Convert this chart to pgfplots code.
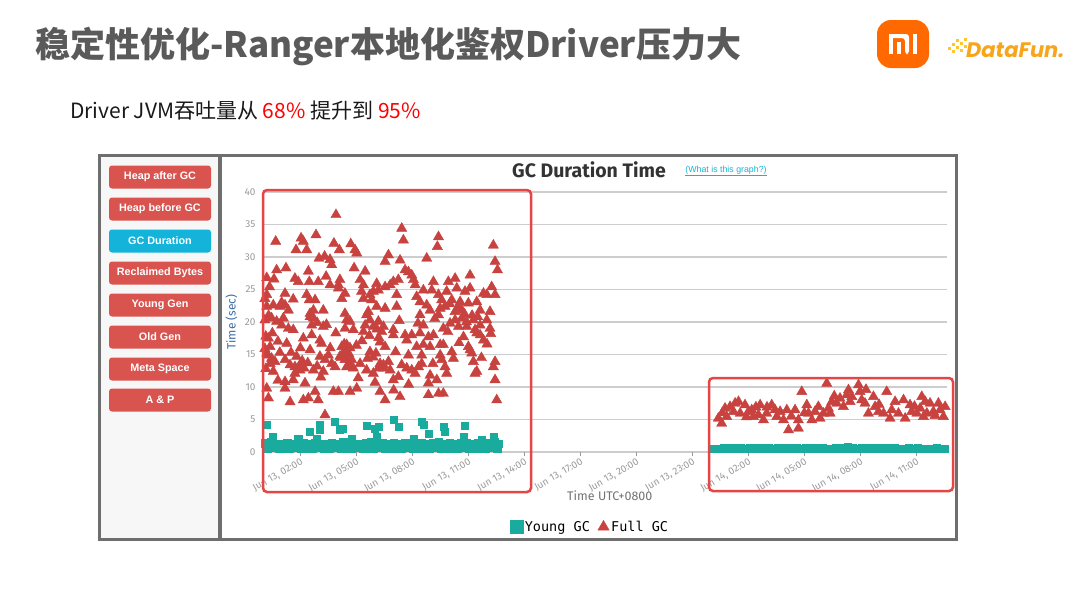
\documentclass[border=0pt]{standalone}
\usepackage{fontspec}
\usepackage{pgfplots}
\pgfplotsset{compat=1.18}
\setmainfont{Liberation Sans}
\newfontfamily\cjk{Noto Sans CJK SC}
\newfontfamily\fira{Fira Sans}
\newfontfamily\mono{DejaVu Sans Mono}
\newfontfamily\pop{Poppins}

\definecolor{fullgc}{HTML}{C8423F}
\definecolor{younggc}{HTML}{1AAB9F}
\definecolor{btnred}{HTML}{D9534F}
\definecolor{btncyan}{HTML}{14B3DA}
\definecolor{boxred}{HTML}{E64545}
\definecolor{framegray}{HTML}{6E6E6E}
\definecolor{ttl}{HTML}{5A5A5A}
\definecolor{ticktext}{HTML}{9A9A9A}
\definecolor{gridgray}{HTML}{CDCDCD}
\definecolor{ylab}{HTML}{3C6FA5}
\definecolor{mi}{HTML}{FF6900}
\definecolor{df}{HTML}{F8A51B}
\definecolor{dfy}{HTML}{FFC52A}

\newcommand{\btn}[3]{\node[fill=#3, rounded corners=3pt, minimum width=102pt,
  minimum height=23pt, inner sep=0pt, text=white,
  font=\bfseries\fontsize{10.8}{12}\selectfont] at (160,#2) {#1};}

\begin{document}
\begin{tikzpicture}
\begin{scope}[x=1pt,y=-1pt]
\path[use as bounding box, fill=white] (0,0) rectangle (1080,608);

% slide title and subtitle
\node[anchor=base west, inner sep=0pt, text=ttl] at (35,57)
  {\cjk\bfseries\fontsize{35}{38}\selectfont 稳定性优化-Ranger本地化鉴权Driver压力大};
\node[anchor=base west, inner sep=0pt, text=black!90] at (70,118)
  {\cjk\fontsize{21}{24}\selectfont Driver JVM吞吐量从 \textcolor{red}{68\%} 提升到 \textcolor{red}{95\%}};

% logos
\fill[mi, rounded corners=14pt] (877,20) rectangle (929,68);
\fill[white] (889,34) rectangle (893,54);
\fill[white, rounded corners=3pt] (889,34) -- (909,34) -- (909,54) -- (905,54) -- (905,38) -- (889,38) -- cycle;
\fill[white] (897,42) rectangle (901,54);
\fill[white] (913,34) rectangle (917,54);
\foreach \px/\py in {948/50,952/46,956/42,952/53,956/49,960/45,960/52,964/48,964/41}
  \fill[dfy] (\px,\py) rectangle ++(3,-3);
\node[anchor=base west, inner sep=0pt, text=df] at (966,57)
  {\pop\bfseries\itshape\fontsize{21}{24}\selectfont DataFun.};

% chart frame
\fill[black!3] (101,157) rectangle (219,538);
\draw[framegray, line width=3pt] (99.5,155.5) rectangle (956.5,539.5);
\draw[framegray, line width=3.5pt] (220,155) -- (220,540);

\btn{Heap after GC}{177}{btnred}
\btn{Heap before GC}{209}{btnred}
\btn{GC Duration}{241}{btncyan}
\btn{Reclaimed Bytes}{273}{btnred}
\btn{Young Gen}{305}{btnred}
\btn{Old Gen}{337}{btnred}
\btn{Meta Space}{369}{btnred}
\btn{A \& P}{400}{btnred}

\node[text=black!80, inner sep=0pt] at (589,170)
  {\fira\bfseries\fontsize{19.5}{22}\selectfont GC Duration Time};
\node[text=btncyan, inner sep=0pt] at (726,171)
  {\fontsize{8.8}{10}\selectfont\underline{(What is this graph?)}};
\end{scope}

\begin{axis}[
  at={(263pt,-452pt)}, anchor=south west,
  scale only axis, width=684pt, height=260pt,
  xmin=0, xmax=36.64, ymin=0, ymax=40,
  clip=false,
  axis line style={draw=none},
  ytick={0,5,...,40},
  ymajorgrids, grid style={line width=1.4pt, color=gridgray},
  xtick={2,5,...,35},
  xticklabels={{Jun 13, 02:00},{Jun 13, 05:00},{Jun 13, 08:00},{Jun 13, 11:00},
    {Jun 13, 14:00},{Jun 13, 17:00},{Jun 13, 20:00},{Jun 13, 23:00},
    {Jun 14, 02:00},{Jun 14, 05:00},{Jun 14, 08:00},{Jun 14, 11:00}},
  tick pos=left, tick align=outside,
  major tick length=4pt,
  ytick style={draw=none},
  xtick style={draw=ticktext, line width=0.6pt},
  /pgf/number format/assume math mode=true,
  x tick label style={rotate=30, anchor=north east, inner sep=1pt,
    font=\fira\fontsize{10}{11}\selectfont, text=ticktext},
  y tick label style={font=\fira\fontsize{10}{11}\selectfont, text=ticktext},
  xlabel={Time UTC+0800},
  xlabel style={at={(axis description cs:0.507,-0.169)}, anchor=center,
    font=\fira\fontsize{12.5}{14}\selectfont, text=black!55},
  ylabel={Time (sec)},
  ylabel style={at={(axis description cs:-0.046,0.5)}, anchor=center,
    font=\fira\fontsize{12}{14}\selectfont, text=ylab},
  legend style={at={(axis description cs:0.478,-0.288)}, anchor=center,
    draw=none, fill=none, legend columns=2,
    font=\mono\fontsize{13.5}{15}\selectfont,
    /tikz/every even column/.append style={column sep=6pt}},
  legend image post style={mark size=6.5pt},
]
% Young GC
\addplot[only marks, mark=square*, mark size=3.6pt, color=younggc] coordinates {
(0.1,1.35)(0.4,1.5)(0.7,1.3)(1.0,1.25)(1.3,1.4)(1.6,1.3)(1.9,1.2)(2.2,1.35)(2.5,1.3)(2.8,1.45)
(3.1,1.3)(3.4,1.25)(3.7,1.4)(4.0,1.3)(4.3,1.5)(4.6,1.35)(4.9,1.3)(5.2,1.25)(5.5,1.4)(5.8,1.55)
(6.1,1.3)(6.4,1.35)(6.7,1.25)(7.0,1.4)(7.3,1.3)(7.6,1.45)(7.9,1.35)(8.2,1.3)(8.5,1.4)(8.8,1.25)
(9.1,1.35)(9.4,1.5)(9.7,1.3)(10.0,1.4)(10.3,1.3)(10.6,1.45)(10.9,1.35)(11.2,1.3)(11.5,1.4)(11.8,1.25)
(12.1,1.35)(12.4,1.5)(12.6,1.3)
(0.25,0.6)(0.55,0.65)(0.85,0.6)(1.15,0.55)(1.45,0.6)(1.75,0.65)(2.05,0.6)(2.35,0.6)(2.65,0.55)(2.95,0.65)
(3.25,0.6)(3.55,0.6)(3.85,0.65)(4.15,0.55)(4.45,0.6)(4.75,0.6)(5.05,0.65)(5.35,0.6)(5.65,0.55)(5.95,0.6)
(6.25,0.65)(6.55,0.6)(6.85,0.6)(7.15,0.55)(7.45,0.6)(7.75,0.65)(8.05,0.6)(8.35,0.6)(8.65,0.55)(8.95,0.6)
(9.25,0.65)(9.55,0.6)(9.85,0.6)(10.15,0.55)(10.45,0.6)(10.75,0.65)(11.05,0.6)(11.35,0.6)(11.65,0.55)(11.95,0.6)
(12.25,0.65)(12.55,0.6)
(0.2,4.15)(0.52,2.36)(2.52,3.13)(3.02,4.15)(3.02,3.5)(3.86,4.67)(4.12,3.38)(4.27,3.64)(5.55,4.05)(6.0,3.64)
(6.18,3.9)(6.09,2.36)(1.89,2.1)(4.75,2.1)(2.87,2.1)(6.98,4.92)(7.25,3.9)(8.5,4.67)(8.59,4.15)(9.66,3.9)
(9.75,3.13)(8.86,2.87)(10.82,4.0)(10.74,2.36)(12.34,2.36)(8.06,2.1)(11.72,1.85)
(24.1,0.5)(24.4,0.55)(24.7,0.6)(25.0,0.5)(25.3,0.55)(25.6,0.65)(25.9,0.5)(26.2,0.55)(26.5,0.6)(26.8,0.5)
(27.1,0.65)(27.4,0.55)(27.7,0.5)(28.0,0.6)(28.3,0.55)(28.6,0.7)(28.9,0.5)(29.2,0.55)(29.5,0.6)(29.8,0.65)
(30.1,0.5)(30.4,0.55)(30.7,0.6)(31.0,0.55)(31.3,0.85)(31.6,0.6)(31.9,0.5)(32.2,0.55)(32.5,0.6)(32.8,0.5)
(33.1,0.55)(33.4,0.6)(33.7,0.5)(34.0,0.55)(34.3,0.5)(34.6,0.6)(34.9,0.55)(35.2,0.5)(35.5,0.45)(35.8,0.55)
(36.1,0.6)(36.4,0.5)(36.5,0.55)
(24.25,0.55)(24.55,0.5)(24.85,0.55)(25.15,0.6)(25.45,0.5)(25.75,0.55)(26.05,0.6)(26.35,0.5)(26.65,0.55)(26.95,0.6)
(27.25,0.5)(27.55,0.6)(27.85,0.55)(28.15,0.5)(28.45,0.6)(28.75,0.55)(29.05,0.6)(29.35,0.5)(29.65,0.55)(29.95,0.6)
(30.25,0.55)(30.55,0.5)(30.85,0.6)(31.15,0.65)(31.45,0.55)(31.75,0.5)(32.05,0.6)(32.35,0.55)(32.65,0.5)(32.95,0.6)
(33.25,0.55)(33.55,0.5)(33.85,0.6)(34.15,0.55)(34.45,0.5)(34.75,0.55)(35.05,0.6)(35.35,0.5)(35.65,0.55)(35.95,0.5)
(36.25,0.55)
};
\addlegendentry{Young GC}
% Full GC
\addplot[only marks, mark=triangle*, mark size=5.9pt, color=fullgc] coordinates {
(3.91,36.5)(0.68,32.4)(2.04,32.9)(2.16,32.4)(2.84,33.4)(1.77,31.1)(2.34,31.1)(3.8,32.1)(4.09,31.1)(4.7,32.0)
(4.93,31.1)(5.02,30.6)(3.0,29.8)(3.3,30.1)(3.59,29.6)(3.68,28.8)(4.88,28.3)(5.47,27.8)(0.73,28.0)(1.23,28.3)
(0.2,26.8)(0.59,26.6)(2.43,27.8)(1.71,26.7)(1.89,26.2)(2.48,26.2)(2.96,26.2)(3.38,27.0)(3.59,25.7)(4.04,25.7)
(4.12,26.5)(5.2,26.5)(5.38,25.7)(6.09,25.9)
(0.2,24.2)(1.18,24.4)(1.62,23.5)(2.34,24.2)(2.48,23.4)(2.79,23.4)(4.04,25.2)(4.22,23.6)(4.39,24.4)(5.28,24.7)
(5.73,24.2)(5.91,24.7)(6.18,24.9)(5.82,23.4)(5.38,23.6)
(0.2,22.4)(0.55,22.6)(0.91,22.4)(1.18,22.6)(1.36,21.8)(2.52,21.3)(2.7,21.8)(3.23,21.8)(5.64,21.6)(6.09,22.4)
(0.46,20.6)(0.73,20.1)(1.09,20.6)(1.0,19.5)(1.36,19.0)(1.62,18.8)(2.52,20.8)(2.7,20.6)(2.61,19.5)(3.23,19.3)
(4.39,21.3)(4.48,20.3)(4.66,20.1)(4.39,19.0)(5.55,21.1)(5.73,20.3)(5.47,19.5)(5.91,19.3)(6.18,20.1)(6.36,18.5)
(5.38,18.5)(4.84,18.8)
(0.29,17.5)(0.38,16.2)(1.27,16.7)(2.16,17.5)(2.61,18.0)(3.05,17.2)(3.14,16.7)(4.22,16.2)(4.48,16.5)(4.66,16.0)
(5.73,15.4)(6.27,16.9)
(0.2,15.2)(0.46,14.4)(0.38,13.6)(0.64,13.9)(1.18,14.2)(1.45,13.4)(1.71,13.1)(1.98,13.4)(2.52,15.7)(3.05,14.7)
(3.32,14.2)(3.5,14.9)(3.68,13.6)(3.86,13.1)(4.12,14.7)(4.39,14.2)(4.57,14.7)(4.48,13.1)(4.66,13.4)(4.84,12.9)
(5.2,13.6)(5.55,12.6)(5.91,12.1)(6.18,12.9)(6.45,13.4)(3.23,12.4)(0.55,12.4)(1.71,12.1)(1.98,12.6)
(1.18,10.8)(1.62,11.1)(2.25,10.6)(0.2,9.8)(1.18,9.8)(2.79,9.3)(3.77,9.3)(4.04,9.3)(4.66,9.3)(5.02,9.8)
(6.27,9.3)(0.29,8.3)(1.45,7.7)(2.16,8.0)(2.43,8.3)(2.96,8.0)(3.32,5.7)
(0.1,23.6)(0.1,20.3)(0.15,17.8)(0.1,15.9)(0.25,14.9)(0.15,12.8)(0.3,21.0)(0.5,18.3)(0.8,17.0)(0.9,15.3)
(1.0,23.0)(0.35,25.4)(4.3,15.3)(4.45,15.8)(4.6,15.1)(4.2,14.5)(4.5,14.3)(4.75,14.2)(4.35,16.6)(5.6,14.4)
(5.9,14.6)(6.05,15.2)(5.3,17.1)(5.0,16.4)(3.9,18.3)(2.9,19.9)(3.4,19.6)(3.6,16.0)(2.0,16.0)(1.5,15.3)
(1.8,14.7)(2.1,14.0)(2.2,12.9)(2.7,12.6)(2.4,13.7)(2.9,13.2)(3.1,11.5)(0.8,11.0)(5.1,11.4)(6.0,10.7)
(6.2,17.6)(6.1,18.9)(5.7,17.9)
(7.43,34.4)(7.52,32.6)(9.4,33.1)(9.34,31.6)(12.34,31.8)(12.43,29.3)(12.56,28.0)
(6.72,30.3)(6.54,29.3)(7.34,29.5)(8.77,29.8)
(7.61,28.0)(7.79,27.7)(7.97,27.2)(8.06,26.5)(8.15,25.7)(7.25,26.5)(6.98,26.2)(6.81,25.7)(6.54,25.4)
(9.13,26.2)(9.93,26.2)(10.29,26.7)(11.09,27.2)
(7.16,24.2)(8.59,24.9)(9.04,24.9)(9.4,24.2)(9.84,24.7)(10.38,25.2)(10.82,24.7)(11.09,25.2)(11.81,24.4)(11.99,24.2)
(12.25,25.4)(12.43,24.2)
(8.23,23.9)(8.41,23.1)(8.77,22.6)(9.57,23.4)(10.11,23.4)(10.56,23.1)(11.0,22.9)(11.45,23.1)(6.54,22.1)(7.16,22.4)
(8.95,21.8)(9.49,22.1)(9.75,22.4)(10.29,21.6)(10.65,21.8)(11.63,21.8)(12.16,21.6)(8.41,21.1)(9.4,21.1)
(6.45,19.3)(6.98,18.8)(8.59,19.5)(10.02,19.8)(10.29,20.3)(10.65,20.6)(11.27,20.3)(11.63,19.5)(11.99,20.3)(12.16,19.0)
(10.91,19.3)(10.47,19.3)(9.66,19.0)(11.36,18.8)
(6.98,18.0)(7.61,18.0)(7.97,18.0)(8.41,18.3)(8.86,17.7)(9.13,18.0)(10.74,17.7)(11.63,18.0)(11.81,17.2)(11.45,18.3)
(6.54,16.2)(7.7,17.2)(8.23,16.2)(8.59,16.5)(8.95,16.2)(9.49,16.5)(9.66,16.5)(11.0,16.2)(11.09,15.7)
(7.79,14.9)(8.5,14.9)(9.49,14.9)(10.11,15.4)(11.18,15.2)(10.2,14.4)(9.57,14.2)(11.27,13.9)
(6.27,13.6)(6.72,13.9)(6.45,12.9)(6.81,12.6)(7.43,13.4)(7.7,12.9)(7.97,12.6)(8.15,12.1)(8.33,13.1)(8.5,13.6)
(9.75,13.1)(9.84,12.1)(11.45,12.4)(11.36,12.1)(12.43,13.9)(12.34,13.1)
(7.25,11.6)(6.98,11.1)(8.95,11.8)(8.86,10.6)(9.31,11.1)(12.43,11.1)
(6.54,8.0)(7.34,8.5)(8.86,8.8)(9.4,9.0)(9.66,9.0)(12.52,8.0)
(10.0,22.8)(10.45,22.3)(10.8,21.2)(11.2,21.0)(10.9,20.0)(11.5,20.8)(9.2,20.5)(9.9,18.5)(8.3,19.8)(7.3,20.2)
(7.1,15.4)(12.0,16.6)(12.2,18.2)(11.7,14.5)(10.5,16.8)(9.1,13.6)(7.0,9.5)(7.8,10.4)
(24.39,5.18)(24.57,4.41)(24.84,5.43)(24.75,6.72)(25.02,6.97)(25.2,6.21)(25.29,7.49)(25.47,7.74)(25.56,5.95)(25.82,7.23)
(26.0,6.21)(26.18,6.46)(26.27,5.43)(26.54,5.69)(26.63,7.23)(26.81,4.92)(26.98,5.95)(27.25,7.23)(27.43,6.46)(27.52,5.43)
(27.7,6.21)(27.88,4.92)(28.06,6.46)(28.15,3.38)(28.5,6.46)(28.68,3.64)(28.68,4.92)(28.86,9.28)(29.13,7.23)(29.22,5.95)
(29.4,4.92)(29.57,6.21)(29.75,6.97)(29.84,5.18)(30.02,5.95)(30.2,10.56)(30.29,6.72)
(30.47,7.74)(30.38,5.95)(30.73,7.49)(30.91,8.26)(31.09,6.97)(31.27,8.77)(31.36,9.54)(31.54,8.51)(31.45,7.74)(31.9,10.31)
(31.98,9.28)(32.07,8.0)(32.25,7.49)(32.43,5.95)(32.7,8.51)(32.79,6.97)(32.97,6.21)(33.24,5.95)(33.41,9.28)(33.59,5.18)
(33.68,6.46)(33.86,7.74)(34.04,5.95)(34.31,8.0)(34.4,5.18)(34.66,7.23)(34.75,6.21)(35.02,5.95)(35.2,6.72)(35.29,8.51)
(35.47,7.74)(35.56,5.95)(35.73,7.49)(35.91,6.21)(36.18,7.49)(36.27,6.46)(36.45,5.43)(36.54,6.97)(35.38,5.43)
(32.3,9.6)(30.6,8.6)(27.0,6.9)(25.9,5.4)(28.3,5.5)(29.0,6.0)(33.0,7.3)(34.9,7.0)(36.0,5.6)(24.6,6.0)(26.4,6.9)
};
\addlegendentry{Full GC}
\end{axis}

\begin{scope}[x=1pt,y=-1pt]
\draw[boxred, line width=2.5pt, rounded corners=4pt] (263,190) rectangle (531,492);
\draw[boxred, line width=2.5pt, rounded corners=4pt] (709,378) rectangle (953,491);
\end{scope}
\end{tikzpicture}
\end{document}
